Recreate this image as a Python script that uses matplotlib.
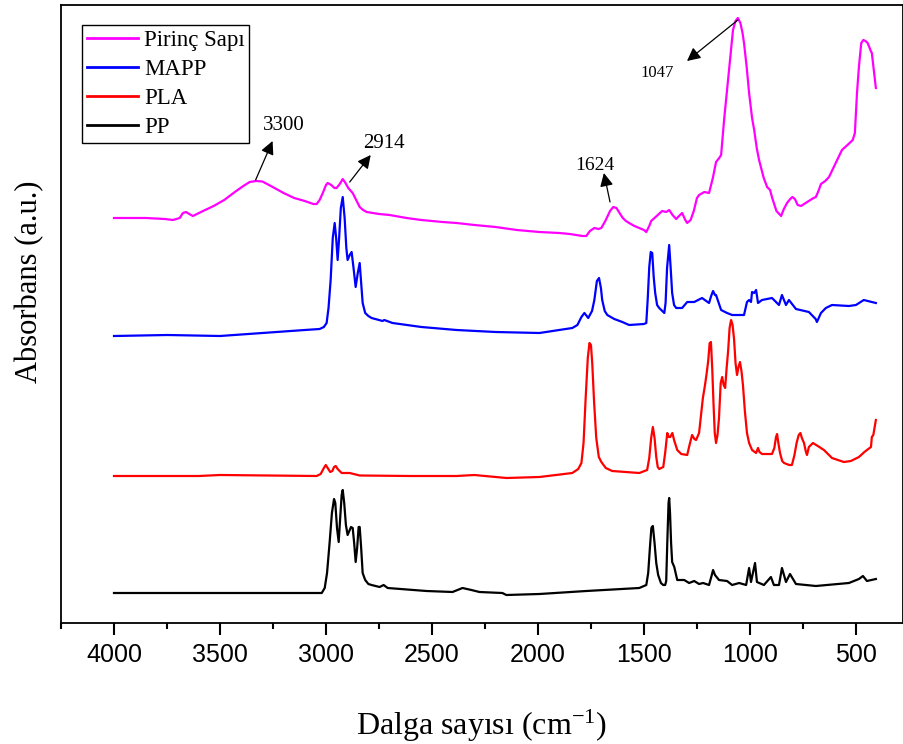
import matplotlib
matplotlib.use("Agg")
import matplotlib.pyplot as plt
import numpy as np

plt.rcParams['mathtext.fontset'] = 'custom'
plt.rcParams['mathtext.rm'] = 'Liberation Serif'
plt.rcParams['mathtext.it'] = 'Liberation Serif:italic'

# ---------------- data (wavenumber cm-1, absorbance a.u., offset-stacked) ----------------
pirinc_wn = [4000, 3850, 3760, 3722, 3690, 3675, 3660, 3645, 3628, 3580, 3530, 3480, 3430, 3390,
             3360, 3330, 3300, 3260, 3200, 3150, 3100, 3060, 3044, 3030, 3015, 3000, 2992, 2975,
             2960, 2950, 2935, 2921, 2908, 2895, 2874, 2855, 2841, 2825, 2808, 2750, 2700, 2620,
             2550, 2450, 2384, 2300, 2200, 2100, 1993, 1900, 1850, 1790, 1772, 1755, 1734, 1715,
             1701, 1680, 1660, 1645, 1630, 1615, 1600, 1585, 1570, 1545, 1522, 1500, 1489, 1475,
             1466, 1440, 1414, 1395, 1381, 1365, 1348, 1330, 1320, 1305, 1296, 1280, 1265, 1250,
             1240, 1215, 1193, 1175, 1160, 1145, 1136, 1122, 1108, 1094, 1080, 1068, 1057, 1045,
             1035, 1028, 1015, 1004, 990, 980, 968, 957, 935, 919, 905, 895, 875, 853, 840, 825,
             810, 800, 788, 775, 759, 730, 700, 689, 675, 665, 645, 627, 600, 566, 540, 515, 505,
             495, 486, 475, 465, 455, 445, 439, 430, 425, 406]
pirinc_abs = [4.05, 4.05, 4.04, 4.03, 4.05, 4.10, 4.11, 4.09, 4.07, 4.12, 4.17, 4.23, 4.31, 4.37,
              4.41, 4.42, 4.415, 4.37, 4.30, 4.25, 4.22, 4.19, 4.19, 4.23, 4.30, 4.38, 4.40, 4.38,
              4.35, 4.35, 4.39, 4.44, 4.40, 4.35, 4.30, 4.22, 4.16, 4.13, 4.11, 4.09, 4.08, 4.05,
              4.03, 4.01, 4.00, 3.98, 3.96, 3.93, 3.91, 3.90, 3.89, 3.87, 3.87, 3.92, 3.95, 3.94,
              3.95, 4.03, 4.12, 4.16, 4.15, 4.10, 4.05, 4.02, 4.00, 3.97, 3.95, 3.93, 3.91, 3.97,
              4.02, 4.07, 4.12, 4.11, 4.13, 4.08, 4.04, 4.08, 4.10, 4.03, 4.00, 4.03, 4.12, 4.25,
              4.28, 4.31, 4.30, 4.45, 4.61, 4.65, 4.68, 5.03, 5.33, 5.63, 5.93, 6.02, 6.05, 6.00,
              5.90, 5.80, 5.55, 5.30, 5.05, 4.93, 4.75, 4.63, 4.45, 4.36, 4.33, 4.25, 4.12, 4.07,
              4.14, 4.20, 4.24, 4.26, 4.24, 4.18, 4.17, 4.21, 4.25, 4.26, 4.33, 4.39, 4.42, 4.46,
              4.58, 4.73, 4.78, 4.83, 4.90, 5.30, 5.56, 5.80, 5.83, 5.82, 5.80, 5.77, 5.72, 5.70,
              5.35]

mapp_wn = [4000, 3748, 3500, 3300, 3100, 3030, 3010, 2997, 2988, 2978, 2968, 2959, 2952, 2945,
           2938, 2930, 2921, 2912, 2904, 2898, 2888, 2879, 2870, 2860, 2850, 2841, 2834, 2827,
           2815, 2800, 2785, 2733, 2725, 2686, 2550, 2384, 2200, 1993, 1900, 1838, 1814, 1795,
           1781, 1770, 1763, 1745, 1734, 1722, 1712, 1703, 1697, 1685, 1673, 1640, 1602, 1570,
           1500, 1489, 1482, 1475, 1468, 1461, 1454, 1447, 1438, 1428, 1404, 1398, 1391, 1381,
           1374, 1367, 1358, 1348, 1320, 1296, 1263, 1226, 1193, 1183, 1174, 1165, 1160, 1136,
           1108, 1084, 1028, 1014, 1004, 995, 990, 980, 971, 962, 943, 896, 863, 849, 830, 816,
           783, 722, 690, 684, 665, 642, 613, 533, 500, 463, 425, 406]
mapp_abs = [2.87, 2.88, 2.87, 2.90, 2.93, 2.94, 2.96, 3.00, 3.15, 3.43, 3.85, 4.00, 3.85, 3.63,
            3.85, 4.15, 4.26, 4.05, 3.75, 3.63, 3.68, 3.71, 3.55, 3.36, 3.50, 3.60, 3.40, 3.20,
            3.10, 3.07, 3.05, 3.02, 3.03, 3.00, 2.96, 2.93, 2.91, 2.90, 2.93, 2.95, 2.98, 3.06,
            3.10, 3.07, 3.05, 3.12, 3.23, 3.42, 3.45, 3.35, 3.23, 3.12, 3.08, 3.04, 3.01, 2.98,
            2.99, 3.00, 3.25, 3.56, 3.71, 3.70, 3.46, 3.30, 3.18, 3.15, 3.10, 3.20, 3.55, 3.78,
            3.55, 3.30, 3.18, 3.15, 3.15, 3.21, 3.21, 3.25, 3.20, 3.27, 3.32, 3.28, 3.28, 3.13,
            3.10, 3.08, 3.08, 3.21, 3.23, 3.21, 3.31, 3.30, 3.33, 3.20, 3.23, 3.25, 3.18, 3.28,
            3.18, 3.23, 3.14, 3.11, 3.04, 3.01, 3.10, 3.15, 3.18, 3.17, 3.18, 3.23, 3.21, 3.20]

pla_wn = [4000, 3600, 3500, 3044, 3025, 3010, 3001, 2992, 2980, 2970, 2962, 2954, 2945, 2926,
          2888, 2841, 2600, 2384, 2300, 2149, 1993, 1838, 1810, 1795, 1785, 1775, 1765, 1757,
          1750, 1744, 1735, 1725, 1713, 1701, 1680, 1650, 1522, 1485, 1475, 1466, 1458, 1450,
          1442, 1435, 1428, 1409, 1400, 1390, 1383, 1376, 1366, 1358, 1343, 1324, 1296, 1285,
          1273, 1262, 1254, 1240, 1230, 1222, 1212, 1204, 1197, 1190, 1184, 1178, 1172, 1166,
          1160, 1153, 1146, 1138, 1131, 1124, 1117, 1110, 1103, 1096, 1089, 1082, 1075, 1068,
          1061, 1054, 1047, 1040, 1033, 1024, 1014, 1004, 990, 971, 962, 955, 943, 896, 885,
          877, 872, 866, 858, 848, 839, 815, 802, 790, 780, 770, 762, 755, 745, 737, 731, 722,
          703, 680, 651, 613, 557, 524, 486, 460, 448, 435, 429, 425, 418, 406]
pla_abs = [1.47, 1.47, 1.48, 1.47, 1.49, 1.55, 1.58, 1.55, 1.51, 1.52, 1.56, 1.57, 1.54, 1.50,
           1.50, 1.475, 1.47, 1.47, 1.48, 1.45, 1.46, 1.50, 1.54, 1.60, 1.80, 2.25, 2.65, 2.80,
           2.78, 2.60, 2.20, 1.85, 1.66, 1.61, 1.55, 1.52, 1.50, 1.53, 1.65, 1.85, 1.96, 1.85,
           1.66, 1.56, 1.54, 1.56, 1.70, 1.90, 1.86, 1.86, 1.90, 1.83, 1.73, 1.69, 1.68, 1.78,
           1.88, 1.84, 1.83, 1.90, 2.10, 2.25, 2.38, 2.50, 2.62, 2.80, 2.81, 2.55, 2.20, 1.90,
           1.80, 1.88, 2.05, 2.40, 2.46, 2.38, 2.35, 2.55, 2.72, 2.95, 3.03, 2.98, 2.84, 2.60,
           2.48, 2.56, 2.61, 2.52, 2.38, 2.12, 1.90, 1.80, 1.73, 1.70, 1.75, 1.71, 1.69, 1.69,
           1.75, 1.86, 1.89, 1.80, 1.70, 1.62, 1.60, 1.58, 1.58, 1.68, 1.80, 1.88, 1.90, 1.85,
           1.80, 1.72, 1.68, 1.76, 1.80, 1.77, 1.73, 1.65, 1.61, 1.62, 1.66, 1.71, 1.73, 1.75,
           1.76, 1.86, 1.88, 2.03]

pp_wn = [4000, 3500, 3020, 3006, 2995, 2983, 2972, 2962, 2956, 2948, 2940, 2933, 2926, 2921,
         2914, 2906, 2898, 2890, 2882, 2874, 2867, 2860, 2853, 2846, 2841, 2834, 2827, 2815,
         2800, 2785, 2747, 2728, 2709, 2526, 2403, 2356, 2314, 2276, 2168, 2149, 1993, 1772,
         1522, 1489, 1480, 1472, 1465, 1458, 1450, 1442, 1433, 1420, 1409, 1400, 1395, 1390,
         1384, 1381, 1377, 1372, 1367, 1357, 1343, 1310, 1287, 1263, 1240, 1221, 1193, 1180,
         1174, 1165, 1146, 1108, 1084, 1051, 1018, 1004, 995, 976, 967, 934, 901, 887, 863,
         849, 830, 811, 783, 689, 533, 486, 467, 448, 406]
pp_abs = [0.30, 0.30, 0.30, 0.35, 0.50, 0.80, 1.10, 1.24, 1.20, 0.95, 0.81, 1.05, 1.28, 1.33,
          1.20, 0.98, 0.88, 0.92, 0.96, 0.95, 0.80, 0.61, 0.75, 0.96, 0.96, 0.75, 0.50, 0.43,
          0.39, 0.38, 0.36, 0.38, 0.35, 0.32, 0.31, 0.35, 0.33, 0.31, 0.30, 0.28, 0.29, 0.32,
          0.35, 0.38, 0.50, 0.75, 0.95, 0.97, 0.80, 0.60, 0.48, 0.40, 0.38, 0.38, 0.42, 0.80,
          1.20, 1.25, 1.10, 0.80, 0.61, 0.56, 0.43, 0.43, 0.40, 0.42, 0.39, 0.40, 0.38, 0.48,
          0.53, 0.48, 0.43, 0.42, 0.38, 0.40, 0.38, 0.55, 0.41, 0.60, 0.41, 0.38, 0.46, 0.38,
          0.38, 0.55, 0.41, 0.49, 0.39, 0.37, 0.40, 0.44, 0.47, 0.42, 0.44]

series_names = ['Pirinç Sapı', 'MAPP', 'PLA', 'PP']
series_colors = ['#FF00FF', '#0000FF', '#FF0000', '#000000']

x_major_ticks = [4000, 3500, 3000, 2500, 2000, 1500, 1000, 500]

# peak annotations: label, arrow tail (on curve), arrow head, text position, fontsize
annotations = [
    ('3300', (3332, 4.43), (3252, 4.82), (3200, 4.97), 15),
    ('2914', (2888, 4.41), (2789, 4.68), (2728, 4.80), 15),
    ('1624', (1660, 4.21), (1689, 4.50), (1731, 4.57), 14),
    ('1047', (1057, 6.03), (1297, 5.62), (1439, 5.50), 12),
]

# ---------------- figure ----------------
W, H = 904, 744
fig = plt.figure(figsize=(W / 100, H / 100), dpi=100)
ax = fig.add_axes([61 / W, 1 - 623 / H, (903 - 61) / W, (623 - 5) / H])

data = [(pirinc_wn, pirinc_abs), (mapp_wn, mapp_abs), (pla_wn, pla_abs), (pp_wn, pp_abs)]
for (wn, ab), name, col in zip(data, series_names, series_colors):
    ax.plot(wn, ab, color=col, lw=1.6, label=name, solid_joinstyle='round')

ax.set_xlim(4247, 278)
ax.set_ylim(0, 6.18)
ax.set_yticks([])
ax.set_xticks(x_major_ticks)
ax.set_xticks(np.arange(4250, 250, -500), minor=True)
ax.tick_params(axis='x', which='major', direction='out', length=8.6, width=1.5, pad=6,
               labelsize=18)
ax.tick_params(axis='x', which='minor', direction='out', length=4.3, width=1.5)
for lbl in ax.get_xticklabels():
    lbl.set_fontfamily('Liberation Sans')
for sp in ax.spines.values():
    sp.set_linewidth(1.3)

for text, tail, head, tpos, fs in annotations:
    ax.annotate('', xy=head, xytext=tail,
                arrowprops=dict(arrowstyle='-|>', color='black', lw=0.9,
                                mutation_scale=20, shrinkA=0, shrinkB=0))
    ax.text(tpos[0], tpos[1], text, ha='center', va='center', fontsize=fs,
            family='Liberation Serif')

leg = ax.legend(loc='upper left', bbox_to_anchor=(82 / W, 1 - 25 / H),
                bbox_transform=fig.transFigure, borderaxespad=0,
                prop={'family': 'Liberation Serif', 'size': 16.5},
                frameon=True, fancybox=False, edgecolor='black', framealpha=1,
                borderpad=0.2, labelspacing=0.36, handlelength=2.25, handletextpad=0.25)
leg.get_frame().set_linewidth(1.0)
for h in leg.get_lines():
    h.set_linewidth(2.0)

fig.text(482 / W, (H - 735) / H, 'Dalga sayısı (cm$^{\\mathrm{-1}}$)', ha='center',
         va='baseline', fontsize=23, family='Liberation Serif')
fig.text(30 / W, 1 - 282 / H, 'Absorbans (a.u.)', rotation=90, ha='center', va='center',
         fontsize=22, family='Liberation Serif')

fig.savefig('out.png', dpi=100)
